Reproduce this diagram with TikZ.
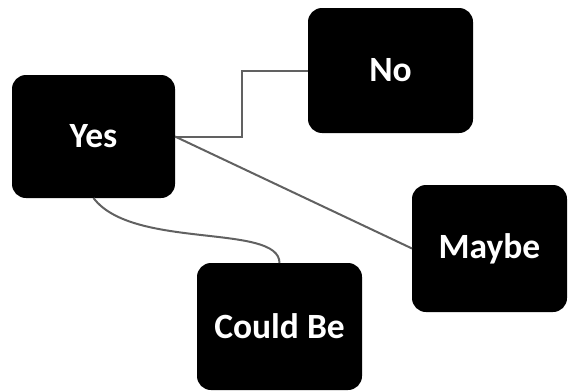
\documentclass[tikz,border=0pt]{standalone}
\usepackage{fontspec}
\setmainfont{Carlito}
\usetikzlibrary{calc}
\begin{document}
\begin{tikzpicture}[x=1pt,y=-1pt,
  card/.style={fill=black, rounded corners=14pt, inner sep=0pt, outer sep=0pt,
    text=white, font=\bfseries\fontsize{35.5}{40}\selectfont},
  link/.style={draw=black!62, line width=2pt}]
  \useasboundingbox (0,0) rectangle (568,391);
  % answer cards
  \node[card, minimum width=163pt, minimum height=123pt] (yes)   at (93.5,136.5) {Yes};
  \node[card, minimum width=165pt, minimum height=125pt] (no)    at (390.5,70.5) {No};
  \node[card, minimum width=155pt, minimum height=127pt] (maybe) at (489.5,248.5) {Maybe};
  \node[card, minimum width=165pt, minimum height=127pt] (could) at (279.5,326.5) {Could Be};
  % connectors
  \draw[link] (yes.east) -| ($(yes.east)!.5!(no.west)$) |- (no.west);
  \draw[link] (yes.east) -- (maybe.west);
  \draw[link] (yes.south) .. controls +(39,52) and +(0,-40) .. (could.north);
\end{tikzpicture}
\end{document}
